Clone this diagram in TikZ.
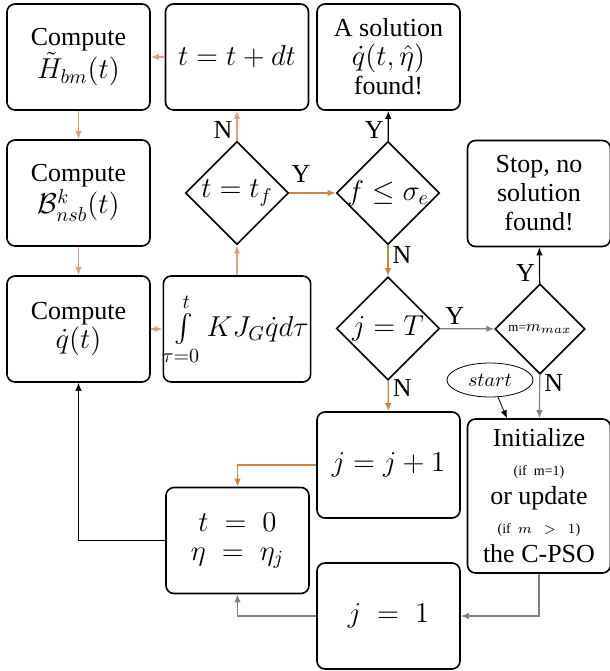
\documentclass[tikz,border=0pt]{standalone}
\usepackage{amsmath,amssymb}
\usepackage{fontspec}
\setmainfont{Liberation Serif}
\usepackage{tikz}
\usetikzlibrary{positioning,arrows.meta,shapes.geometric}
\definecolor{loopcol}{RGB}{233,155,125}
\definecolor{ynocol}{RGB}{205,133,63}
\definecolor{restartcol}{RGB}{128,128,128}
\DeclareMathSizes{13}{14}{10}{7}

\begin{document}
\begin{tikzpicture}[x=0.5pt, y=-0.5pt, >={Latex[length=4pt,width=3.2pt]},
  font=\fontsize{13}{14.5}\selectfont,
  stepbox/.style={draw, line width=0.8pt, rounded corners=4pt, align=center,
    minimum width=71.5pt, minimum height=53pt, inner sep=1pt},
  test/.style={draw, diamond, line width=0.8pt, aspect=1, inner sep=0pt,
    minimum width=51.5pt, minimum height=51.5pt},
  yn/.style={text=black, font=\fontsize{13}{14}\selectfont, inner sep=2pt},
  link/.style={->, line width=0.6pt}]
\useasboundingbox (0,0) rectangle (610,671);
% loop over time
\node[stepbox] (hbm) at (78.5,57) {Compute\\ $\tilde{H}_{bm}(t)$};
\node[stepbox] (tdt) at (237,57) {$t=t+dt$};
\node[stepbox] (sol) at (388.5,57) {A solution\\ $\dot{q}(t,\hat{\eta})$\\ found!};
\node[stepbox] (bnsb) at (78.5,193) {Compute\\ $\mathcal{B}^{k}_{nsb}(t)$};
\node[stepbox] (qdot) at (78.5,329) {Compute\\ $\dot{q}(t)$};
\node[stepbox] (integ) at (237,329) {$\int\limits_{\tau=0}^{t} KJ_G\dot{q}d\tau$};
\node[test, label=center:{$t=t_f$}] (dtf) at (237,193) {};
\node[test, label=center:{$f\leq\sigma_e$}] (dfs) at (388,193) {};
\node[test, label=center:{$j=T$}] (djt) at (388,328.5) {};
\node[test, minimum width=45pt, minimum height=45pt,
  label=center:{{\fontsize{6.5}{7}\selectfont m=}{\fontsize{8.5}{9}\selectfont$m_{max}$}}] (dmm) at (540,329) {};
\node[stepbox] (stop) at (539,193.5) {Stop, no\\ solution\\ found!};
% restart of the swarm
\node[draw, ellipse, line width=0.4pt, minimum width=43pt, minimum height=17pt, inner sep=0pt,
  font=\fontsize{10}{12}\selectfont] (start) at (490,380) {$start$};
\node[stepbox] (jp1) at (388.5,465) {$j=j+1$};
\node[stepbox] (t0) at (237.5,540.5) {$t\;=\;0$\\ $\eta\;=\;\eta_j$};
\node[stepbox, minimum height=77pt] (init) at (539,496)
  {Initialize\\ {\fontsize{7}{8}\selectfont (if\ \ m=1)}\\ or update\\
   {\fontsize{7}{8}\selectfont (if\ \ $m\ \ >\ \ 1$)}\\ the C-PSO};
\node[stepbox] (j1) at (388.5,616) {$j\;=\;1$};

\draw[link, loopcol] (tdt) -- (hbm);
\draw[link, loopcol] (hbm) -- (bnsb);
\draw[link, loopcol] (bnsb) -- (qdot);
\draw[link, loopcol] (qdot) -- (integ);
\draw[link, loopcol] (integ) -- (dtf);
\draw[link, loopcol] (dtf) -- node[yn, left, pos=0.35] {N} (tdt);
\draw[link, ynocol] (dtf) -- node[yn, above=3pt, pos=0.25] {Y} (dfs);
\draw[link, black] (dfs) -- node[yn, left, pos=0.35] {Y} (sol);
\draw[link, ynocol] (dfs) -- node[yn, right, pos=0.3] {N} (djt);
\draw[link, restartcol] (djt) -- node[yn, above, pos=0.27] {Y} (dmm);
\draw[link, black] (dmm) -- node[yn, left, pos=0.3] {Y} (stop);
\draw[link, restartcol] (dmm) -- node[yn, right, pos=0.2] {N} (init);
\draw[link, ynocol] (djt) -- node[yn, right, pos=0.25] {N} (jp1);
\draw[->, line width=0.4pt] (start.-65) -- ([xshift=-16pt]init.north);
\draw[link, ynocol] (jp1.west) -| (t0.north);
\draw[link, restartcol] (init.south) |- (j1.east);
\draw[link, restartcol] (j1.west) -| (t0.south);
\draw[->, line width=0.4pt] (t0.west) -| (qdot.south);
\end{tikzpicture}
\end{document}
